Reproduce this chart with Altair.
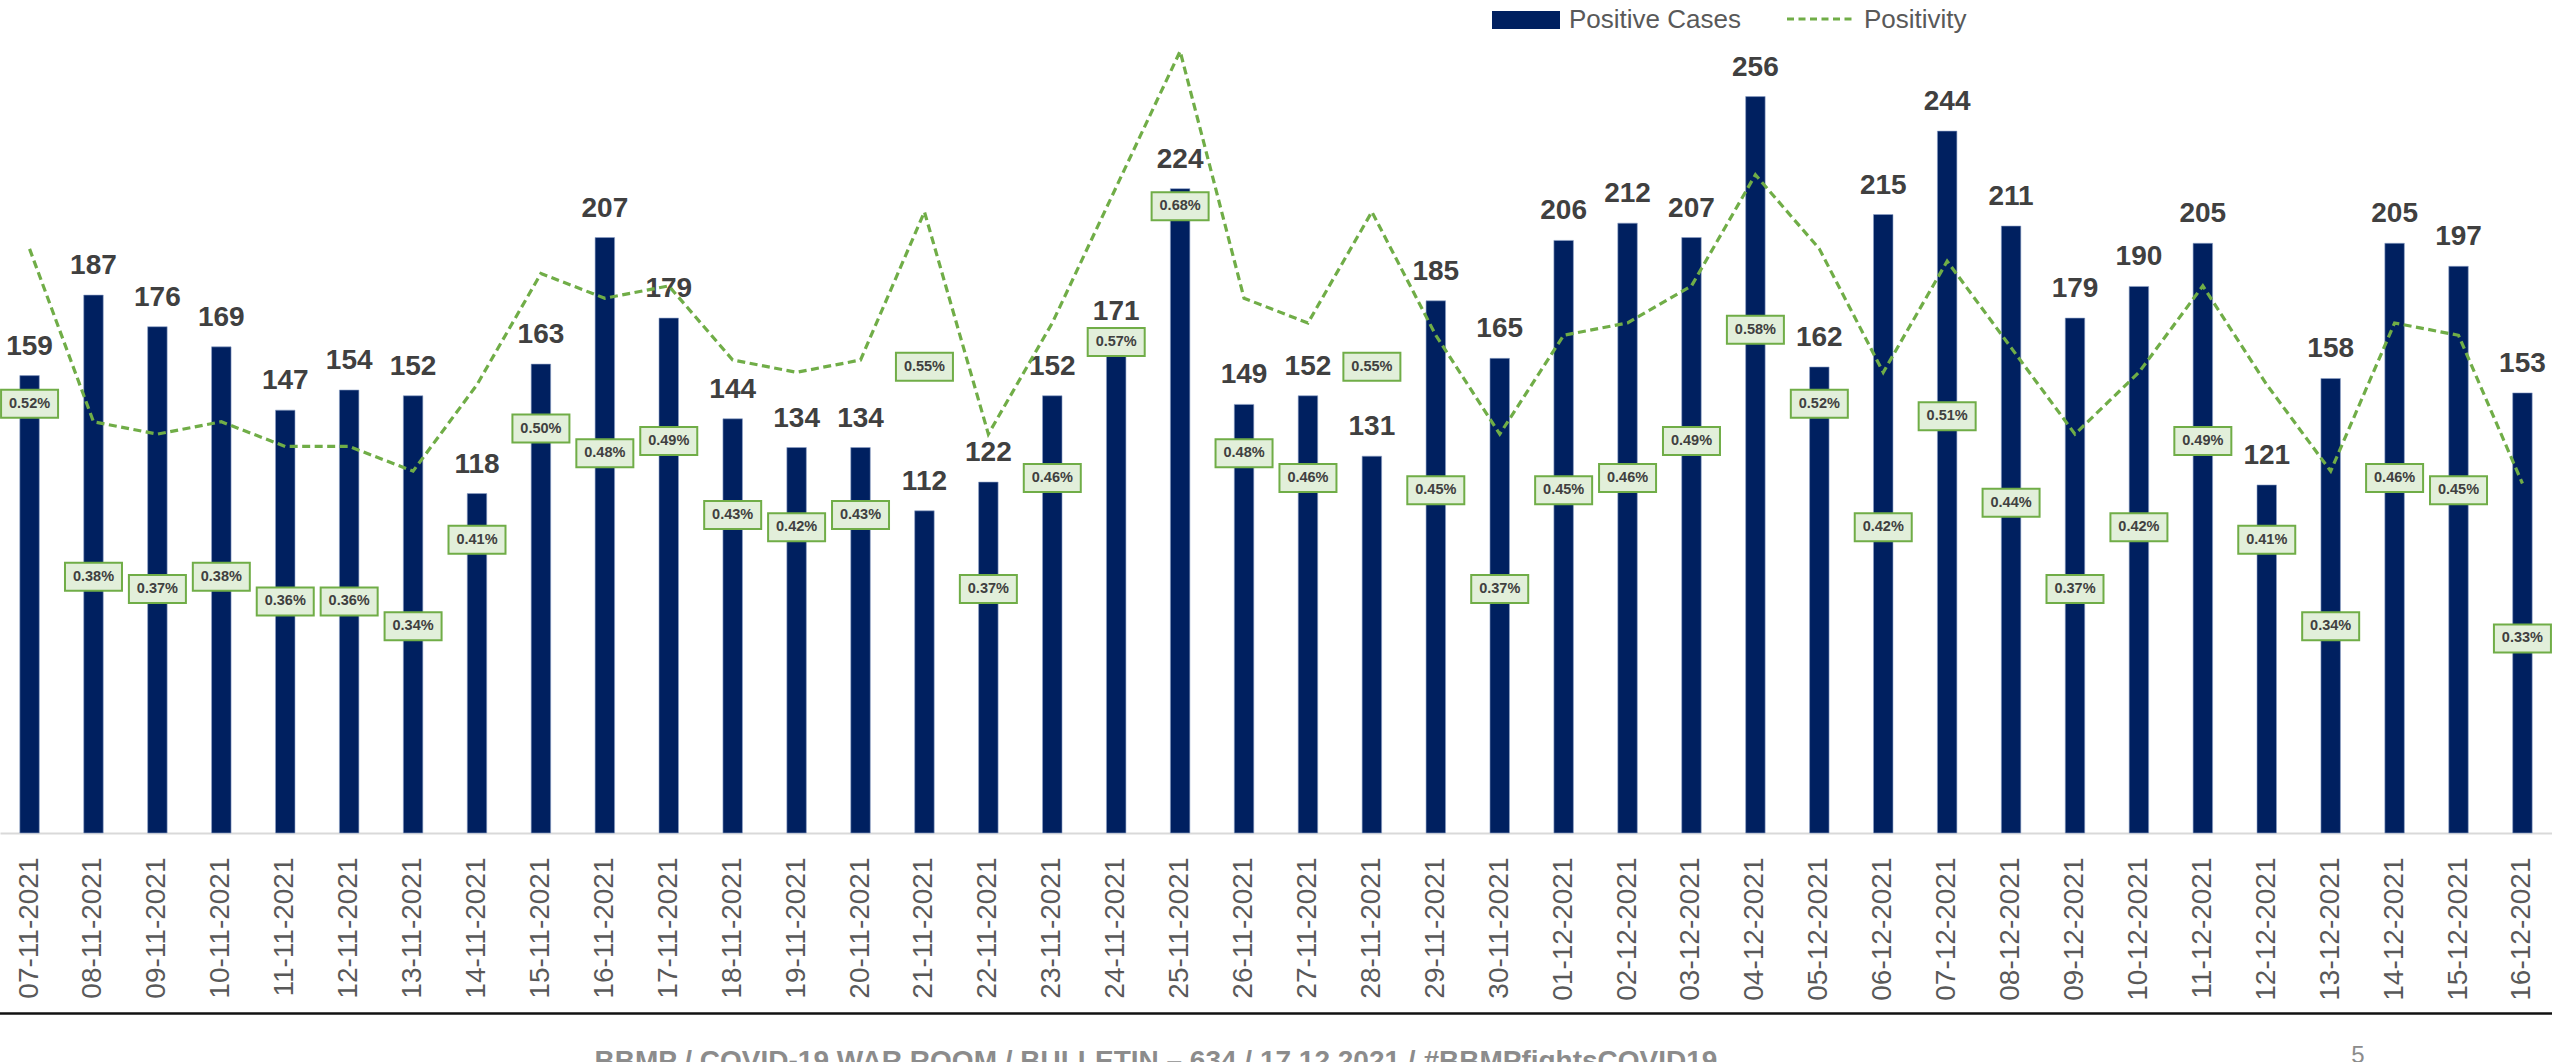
import altair as alt
import pandas as pd

dates = [
    "07-11-2021", "08-11-2021", "09-11-2021", "10-11-2021", "11-11-2021",
    "12-11-2021", "13-11-2021", "14-11-2021", "15-11-2021", "16-11-2021",
    "17-11-2021", "18-11-2021", "19-11-2021", "20-11-2021", "21-11-2021",
    "22-11-2021", "23-11-2021", "24-11-2021", "25-11-2021", "26-11-2021",
    "27-11-2021", "28-11-2021", "29-11-2021", "30-11-2021", "01-12-2021",
    "02-12-2021", "03-12-2021", "04-12-2021", "05-12-2021", "06-12-2021",
    "07-12-2021", "08-12-2021", "09-12-2021", "10-12-2021", "11-12-2021",
    "12-12-2021", "13-12-2021", "14-12-2021", "15-12-2021", "16-12-2021",
]
positive_cases = [
    159, 187, 176, 169, 147, 154, 152, 118, 163, 207,
    179, 144, 134, 134, 112, 122, 152, 171, 224, 149,
    152, 131, 185, 165, 206, 212, 207, 256, 162, 215,
    244, 211, 179, 190, 205, 121, 158, 205, 197, 153,
]
positivity = [
    0.52, 0.38, 0.37, 0.38, 0.36, 0.36, 0.34, 0.41, 0.50, 0.48,
    0.49, 0.43, 0.42, 0.43, 0.55, 0.37, 0.46, 0.57, 0.68, 0.48,
    0.46, 0.55, 0.45, 0.37, 0.45, 0.46, 0.49, 0.58, 0.52, 0.42,
    0.51, 0.44, 0.37, 0.42, 0.49, 0.41, 0.34, 0.46, 0.45, 0.33,
]
legend_labels = ["Positive Cases", "Positivity"]
footer_text = "BBMP / COVID-19 WAR ROOM / BULLETIN \u2013 634 / 17.12.2021  / #BBMPfightsCOVID19"
page_number = "5"

df = pd.DataFrame({"date": dates, "cases": positive_cases, "pos": positivity})
df["pos_label"] = df["pos"].map(lambda v: f"{v:.2f}%")
one = pd.DataFrame({"k": [0]})

W, H, TOP, BOTTOM = 2552, 823, 10, 229
BAR = "#002060"
GREEN = "#70AD47"
FONT = "Liberation Sans"

xscale = alt.Scale(paddingInner=0.695, paddingOuter=0.31)
x_enc = alt.X(
    "date:N", sort=dates, scale=xscale,
    axis=alt.Axis(title=None, labelAngle=270, labelFont=FONT, labelFontSize=28,
                  labelColor="#595959", labelPadding=24, ticks=False,
                  domainColor="#D9D9D9", domainWidth=2, grid=False,
                  labelOverlap=False, labelLimit=400),
)

y_cases = alt.Y("cases:Q", scale=alt.Scale(domain=[0, 286.1], nice=False, zero=True), axis=None)
y_pos = alt.Y("pos:Q", scale=alt.Scale(domain=[0.047, 0.7134], nice=False, zero=False), axis=None)

base = alt.Chart(df)

bars = base.mark_bar(color=BAR, stroke="#8FA3C8", strokeWidth=0.6).encode(x=x_enc, y=y_cases)
bar_text = base.mark_text(font=FONT, fontSize=28, fontWeight="bold", color="#404040",
                          baseline="alphabetic", dy=-21).encode(x=x_enc, y=y_cases, text="cases:Q")

line = base.mark_line(color=GREEN, strokeWidth=3.2, strokeDash=[8, 4.5]).encode(x=x_enc, y=y_pos)

box_path = "M-1,-0.4912L1,-0.4912L1,0.4912L-1,0.4912Z"
boxes = base.mark_point(shape=box_path, size=3249, filled=True, fill="#E2EFDA", stroke=GREEN,
                        strokeWidth=2, opacity=1, yOffset=155).encode(x=x_enc, y=y_pos)
box_text = base.mark_text(font=FONT, fontSize=14.5, fontWeight="bold", color="#404040",
                          baseline="middle", yOffset=155).encode(x=x_enc, y=y_pos, text="pos_label:N")

lg = alt.Chart(one)
leg_rect = lg.mark_rect(color=BAR).encode(x=alt.value(1492), x2=alt.value(1560), y=alt.value(1), y2=alt.value(19))
leg_t1 = lg.mark_text(font=FONT, fontSize=26, color="#595959", align="left", baseline="alphabetic").encode(
    x=alt.value(1569), y=alt.value(17.5), text=alt.value(legend_labels[0]))
leg_line = lg.mark_rule(color=GREEN, strokeWidth=3, strokeDash=[7, 4.5]).encode(
    x=alt.value(1787), x2=alt.value(1856), y=alt.value(9))
leg_t2 = lg.mark_text(font=FONT, fontSize=26, color="#595959", align="left", baseline="alphabetic").encode(
    x=alt.value(1864), y=alt.value(17.5), text=alt.value(legend_labels[1]))

foot_rule = lg.mark_rule(color="#111111", strokeWidth=2.5).encode(
    x=alt.value(0), x2=alt.value(W), y=alt.value(1003.5))
foot_text = lg.mark_text(font=FONT, fontSize=28, fontWeight="bold", color="#8C8C8C", align="center",
                         baseline="alphabetic").encode(x=alt.value(1156), y=alt.value(1060), text=alt.value(footer_text))
page_text = lg.mark_text(font=FONT, fontSize=24, color="#8C8C8C", align="center",
                         baseline="alphabetic").encode(x=alt.value(2358), y=alt.value(1053), text=alt.value(page_number))

chart = alt.layer(
    bars, bar_text, line, boxes, box_text,
    leg_rect, leg_t1, leg_line, leg_t2, foot_rule, foot_text, page_text,
).resolve_scale(y="independent").properties(
    width=W, height=H,
    padding={"left": 0, "top": TOP, "right": 0, "bottom": BOTTOM},
    autosize=alt.AutoSizeParams(type="none"),
    background="white",
).configure_view(stroke=None)

chart.save("out.html", embed_options={"renderer": "svg", "actions": False})
